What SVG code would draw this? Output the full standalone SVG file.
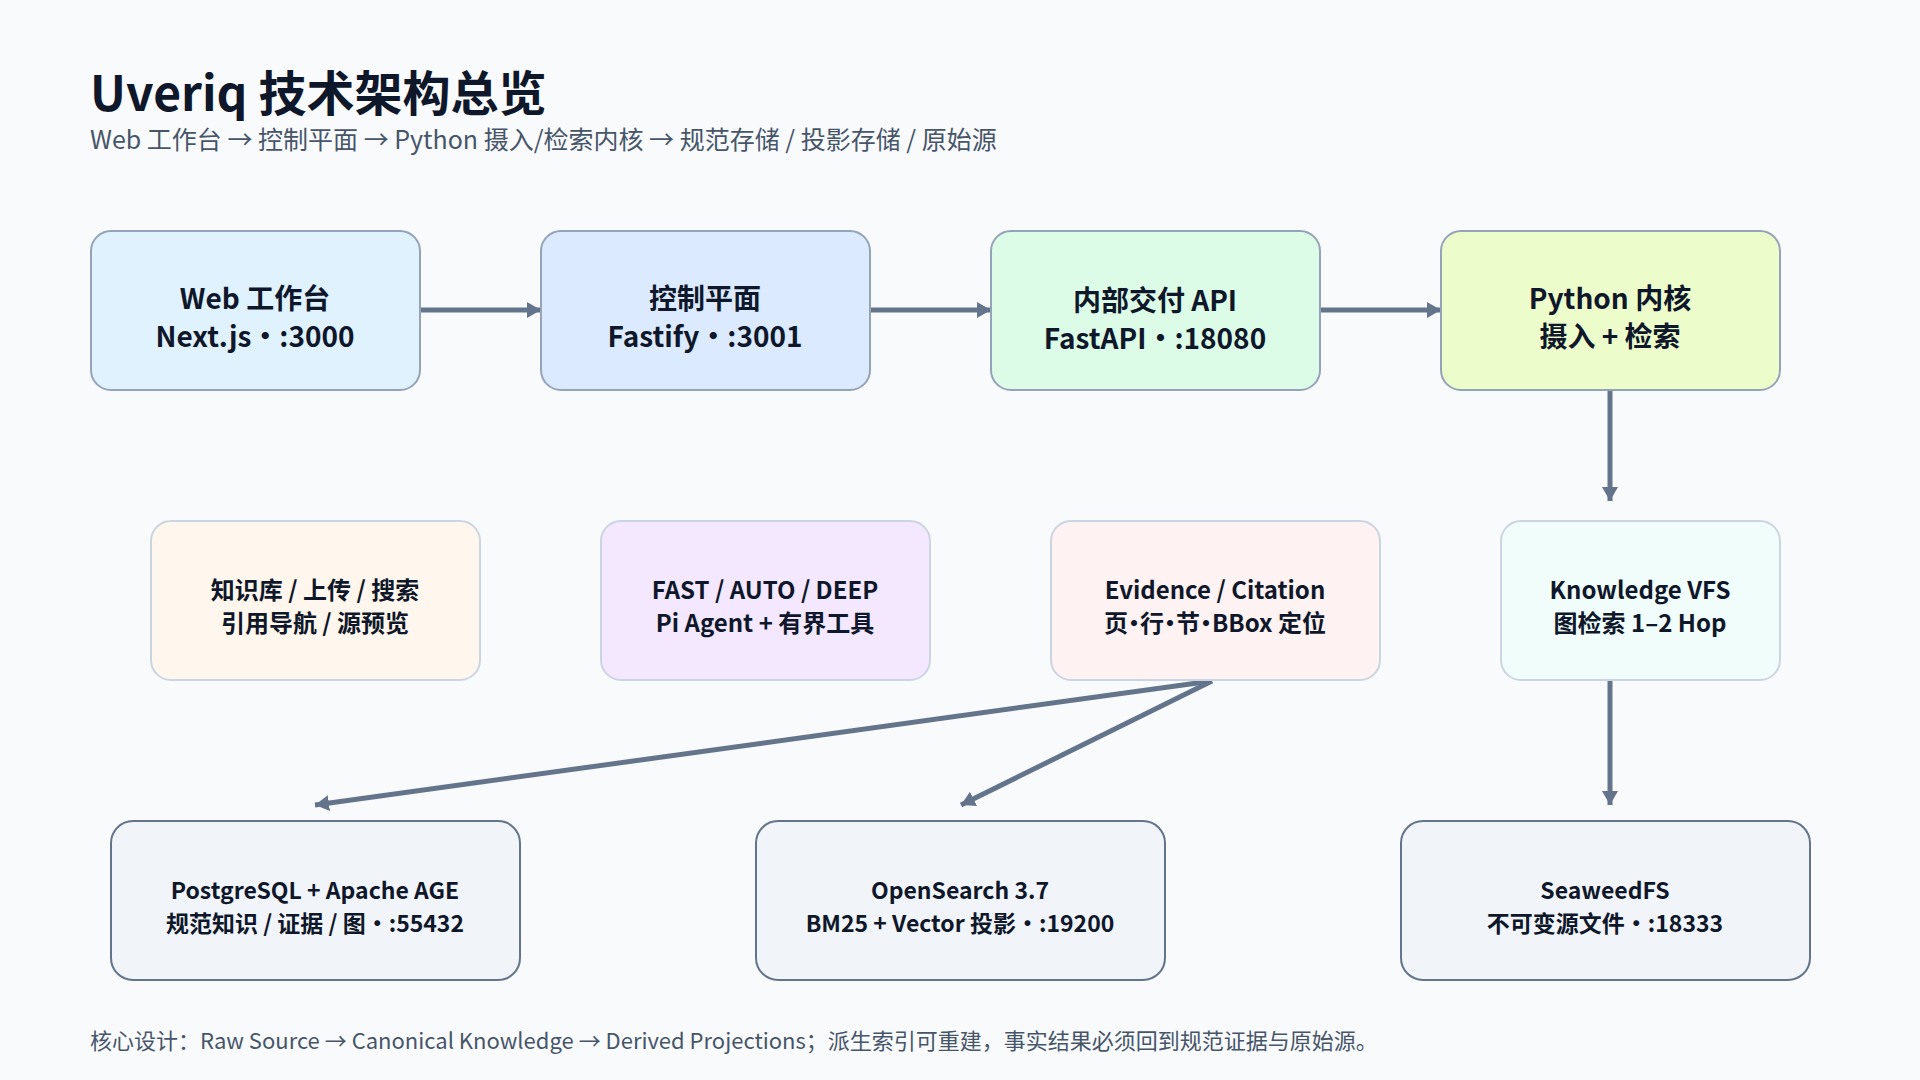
<svg xmlns="http://www.w3.org/2000/svg" width="1920" height="1080" viewBox="0 0 1920 1080">
<defs>
<style>
.t{font-family:"Noto Sans CJK SC","Noto Sans",sans-serif;fill:#0f172a}
.title{font-size:48px;font-weight:700}
.sub{font-size:25px;font-weight:400;fill:#475569}
.foot{font-size:22px;font-weight:400;fill:#475569}
.n1{font-size:28px;font-weight:700;text-anchor:middle}
.n2{font-size:24px;font-weight:700;text-anchor:middle}
.n3{font-size:23px;font-weight:700;text-anchor:middle}
.halt{font-feature-settings:"halt" 1}
.b1{stroke:#94a3b8;stroke-width:2}
.b2{stroke:#cbd5e1;stroke-width:2}
.b3{stroke:#64748b;stroke-width:2;fill:#f1f5f9}
.e{stroke:#64748b;stroke-width:5;fill:none}
</style>
<marker id="ah" markerUnits="userSpaceOnUse" markerWidth="14" markerHeight="16" viewBox="0 0 14 16" refX="14" refY="8" orient="auto">
<path d="M0,0 L14,8 L0,16 z" fill="#64748b"/>
</marker>
</defs>
<rect width="1920" height="1080" fill="#f8fafc"/>
<text class="t title" x="90" y="111">Uveriq 技术架构总览</text>
<text class="t sub" x="90" y="149">Web 工作台 → 控制平面 → Python 摄入/检索内核 → 规范存储 / 投影存储 / 原始源</text>

<g id="edges">
<line class="e" x1="420" y1="310" x2="541" y2="310" marker-end="url(#ah)"/>
<line class="e" x1="870" y1="310" x2="991" y2="310" marker-end="url(#ah)"/>
<line class="e" x1="1320" y1="310" x2="1441" y2="310" marker-end="url(#ah)"/>
<line class="e" x1="1610" y1="390" x2="1610" y2="501" marker-end="url(#ah)"/>
<line class="e" x1="1212" y1="681" x2="315" y2="805" marker-end="url(#ah)"/>
<line class="e" x1="1212" y1="681" x2="961" y2="805" marker-end="url(#ah)"/>
<line class="e" x1="1610" y1="680" x2="1610" y2="805" marker-end="url(#ah)"/>
</g>

<g id="web">
<rect class="b1" x="91" y="231" width="329" height="159" rx="20" fill="#e0f2fe"/>
<text class="t n1" x="255" y="309">Web 工作台</text>
<text class="t n1" x="255" y="347">Next.js・:3000</text>
</g>
<g id="control">
<rect class="b1" x="541" y="231" width="329" height="159" rx="20" fill="#dbeafe"/>
<text class="t n1" x="705" y="309">控制平面</text>
<text class="t n1" x="705" y="347">Fastify・:3001</text>
</g>
<g id="api">
<rect class="b1" x="991" y="231" width="329" height="159" rx="20" fill="#dcfce7"/>
<text class="t n1" x="1155" y="311">内部交付 API</text>
<text class="t n1" x="1155" y="349">FastAPI・:18080</text>
</g>
<g id="python">
<rect class="b1" x="1441" y="231" width="339" height="159" rx="20" fill="#ecfccb"/>
<text class="t n1" x="1610" y="309">Python 内核</text>
<text class="t n1" x="1610" y="347">摄入 + 检索</text>
</g>

<g id="ui">
<rect class="b2" x="151" y="521" width="329" height="159" rx="20" fill="#fff7ed"/>
<text class="t n2" x="315" y="599">知识库 / 上传 / 搜索</text>
<text class="t n2" x="315" y="632">引用导航 / 源预览</text>
</g>
<g id="modes">
<rect class="b2" x="601" y="521" width="329" height="159" rx="20" fill="#f3e8ff"/>
<text class="t n2" x="765" y="599">FAST / AUTO / DEEP</text>
<text class="t n2" x="765" y="632">Pi Agent + 有界工具</text>
</g>
<g id="evidence">
<rect class="b2" x="1051" y="521" width="329" height="159" rx="20" fill="#fef2f2"/>
<text class="t n2" x="1215" y="599">Evidence / Citation</text>
<text class="t n2 halt" x="1215" y="632">页·行·节·BBox 定位</text>
</g>
<g id="vfs">
<rect class="b2" x="1501" y="521" width="279" height="159" rx="20" fill="#f0fdfa"/>
<text class="t n2" x="1640" y="599">Knowledge VFS</text>
<text class="t n2" x="1640" y="632">图检索 1–2 Hop</text>
</g>

<g id="postgres">
<rect class="b3" x="111" y="821" width="409" height="159" rx="22"/>
<text class="t n3" x="315" y="899">PostgreSQL + Apache AGE</text>
<text class="t n3" x="315" y="932">规范知识 / 证据 / 图・:55432</text>
</g>
<g id="opensearch">
<rect class="b3" x="756" y="821" width="409" height="159" rx="22"/>
<text class="t n3" x="960" y="899">OpenSearch 3.7</text>
<text class="t n3" x="960" y="932">BM25 + Vector 投影・:19200</text>
</g>
<g id="seaweed">
<rect class="b3" x="1401" y="821" width="409" height="159" rx="22"/>
<text class="t n3" x="1605" y="899">SeaweedFS</text>
<text class="t n3" x="1605" y="932">不可变源文件・:18333</text>
</g>

<text class="t foot" x="90" y="1049">核心设计：Raw Source → Canonical Knowledge → Derived Projections；派生索引可重建，事实结果必须回到规范证据与原始源。</text>
</svg>
